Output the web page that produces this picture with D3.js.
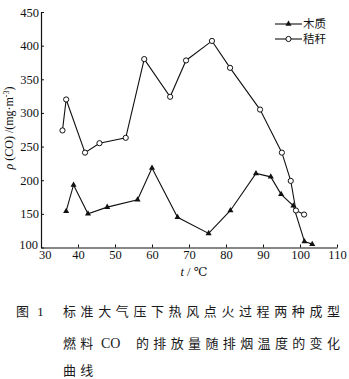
<!DOCTYPE html>
<html>
<head>
<meta charset="utf-8">
<script src="https://cdn.jsdelivr.net/npm/d3@7"></script>
<style>
  html, body { margin: 0; padding: 0; background: #fff; }
  svg { display: block; }
</style>
</head>
<body>
<svg id="chart" width="349" height="379"></svg>
<script>
// Exhaust temperature (°C) and CO concentration (mg·m^-3)
const woodT   = [36.8, 38.8, 42.7, 47.9, 56.1, 60.0, 66.9, 75.3, 81.2, 88.1, 92.1, 94.9, 98.2, 101.2, 103.3];
const woodCO  = [154, 193, 150, 160, 171, 218, 145, 121, 155, 210, 205, 179, 162, 109, 105];
const strawT  = [35.8, 36.8, 41.9, 45.8, 52.9, 57.9, 64.9, 69.2, 76.2, 81.1, 89.2, 95.1, 97.5, 98.9, 101.1];
const strawCO = [274, 320, 241, 255, 263, 380, 324, 378, 407, 367, 305, 241, 199, 155, 149];

const xTicks = [30, 40, 50, 60, 70, 80, 90, 100, 110];
const yTicks = [100, 150, 200, 250, 300, 350, 400, 450];
const seriesNames = ["木质", "秸秆"];

const svg = d3.select("#chart");
const serif = "'Liberation Serif', 'DejaVu Serif', serif";
const cjk = "'Noto Sans CJK SC', sans-serif";

const x = d3.scaleLinear().domain([30, 110]).range([41, 337]);
const y = d3.scaleLinear().domain([100, 450]).range([247.5, 12]);

// Axes with inward ticks
const xAxis = svg.append("g")
  .attr("transform", `translate(0,${y(100)})`)
  .call(d3.axisBottom(x).tickValues(xTicks).tickSizeInner(-3).tickSizeOuter(0).tickPadding(3));
const yAxis = svg.append("g")
  .attr("transform", `translate(${x(30)},0)`)
  .call(d3.axisLeft(y).tickValues(yTicks).tickSizeInner(-3).tickSizeOuter(0).tickPadding(2));

[xAxis, yAxis].forEach(g => {
  g.selectAll("path.domain").attr("stroke", "#111").attr("stroke-width", 1.2);
  g.selectAll(".tick line").attr("stroke", "#111");
  g.selectAll("text").attr("font-family", serif).attr("font-size", 12.5).attr("fill", "#111");
});
// keep the shared corner labels apart
yAxis.selectAll(".tick").filter(d => d === 100).select("text").attr("dy", "0.05em").attr("x", -3);
xAxis.selectAll(".tick").filter(d => d === 30).select("text").attr("dx", "0.3em");

// Axis titles
svg.append("text")
  .attr("transform", `translate(13,128) rotate(-90)`)
  .attr("text-anchor", "middle")
  .attr("font-family", serif).attr("font-size", 12).attr("fill", "#111")
  .html("<tspan font-style='italic'>ρ</tspan> (CO) /(mg·m<tspan baseline-shift='super' font-size='8'>-3</tspan>)");

svg.append("text")
  .attr("x", 194).attr("y", 276)
  .attr("text-anchor", "middle")
  .attr("font-family", serif).attr("font-size", 12.5).attr("fill", "#111")
  .html("<tspan font-style='italic'>t</tspan> / ℃");

const line = d3.line().x(d => x(d[0])).y(d => y(d[1]));
const woodPts = woodT.map((t, i) => [t, woodCO[i]]);
const strawPts = strawT.map((t, i) => [t, strawCO[i]]);

const tri = d3.symbol().type(d3.symbolTriangle).size(16);

svg.append("path").datum(woodPts).attr("d", line)
  .attr("fill", "none").attr("stroke", "#111").attr("stroke-width", 1.1);
svg.append("path").datum(strawPts).attr("d", line)
  .attr("fill", "none").attr("stroke", "#111").attr("stroke-width", 1.1);

svg.append("g").selectAll("path").data(woodPts).join("path")
  .attr("d", tri)
  .attr("transform", d => `translate(${x(d[0])},${y(d[1])})`)
  .attr("fill", "#111");

svg.append("g").selectAll("circle").data(strawPts).join("circle")
  .attr("cx", d => x(d[0])).attr("cy", d => y(d[1])).attr("r", 2.6)
  .attr("fill", "#fff").attr("stroke", "#111").attr("stroke-width", 1);

// Legend
const legend = svg.append("g");
seriesNames.forEach((name, i) => {
  const ly = 24 + i * 15;
  legend.append("line").attr("x1", 275).attr("x2", 302).attr("y1", ly).attr("y2", ly)
    .attr("stroke", "#111").attr("stroke-width", 1.1);
  if (i === 0) {
    legend.append("path").attr("d", tri).attr("transform", `translate(288.5,${ly})`).attr("fill", "#111");
  } else {
    legend.append("circle").attr("cx", 288.5).attr("cy", ly).attr("r", 2.6)
      .attr("fill", "#fff").attr("stroke", "#111");
  }
  legend.append("text").attr("x", 303).attr("y", ly + 4.2)
    .attr("font-family", cjk).attr("font-size", 11.5).attr("fill", "#111").text(name);
});

// Caption
const cap = svg.append("g").attr("fill", "#1a1a1a").attr("font-size", 13);
cap.append("text").attr("x", 16).attr("y", 316).attr("font-family", cjk).text("图");
cap.append("text").attr("x", 37).attr("y", 316).attr("font-family", serif)
  .attr("font-size", 13.5).text("1");

cap.append("text").attr("x", 63).attr("y", 316).attr("font-family", cjk)
  .attr("textLength", 277).attr("lengthAdjust", "spacing")
  .text("标准大气压下热风点火过程两种成型");

cap.append("text").attr("x", 63).attr("y", 347.5).attr("font-family", cjk)
  .attr("letter-spacing", 4.3).text("燃料");
cap.append("text").attr("x", 101).attr("y", 347.5).attr("font-family", serif)
  .attr("font-size", 14).text("CO");
cap.append("text").attr("x", 136).attr("y", 347.5).attr("font-family", cjk)
  .attr("textLength", 204).attr("lengthAdjust", "spacing")
  .text("的排放量随排烟温度的变化");

cap.append("text").attr("x", 63).attr("y", 374.5).attr("font-family", cjk)
  .attr("letter-spacing", 4.3).text("曲线");
</script>
</body>
</html>
